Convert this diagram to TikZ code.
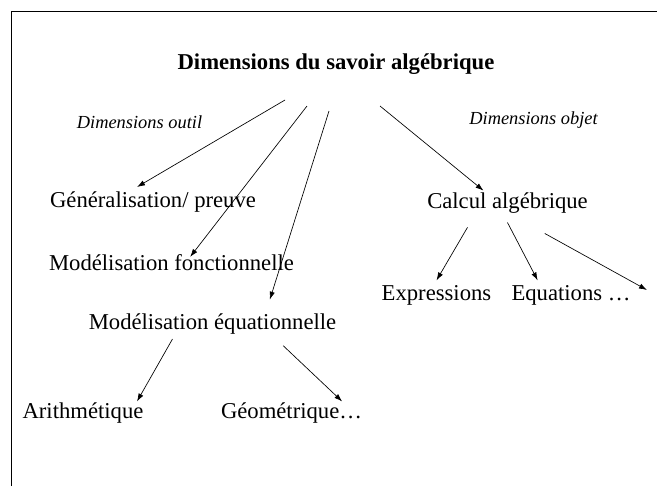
\documentclass[tikz,border=0pt]{standalone}
\usepackage{fontspec}
\setmainfont{Liberation Serif}
\usetikzlibrary{arrows.meta}

\begin{document}
\begin{tikzpicture}[x=0.75pt, y=-0.75pt,
    lbl/.style={font=\fontsize{17}{20}\selectfont},
    dim/.style={font=\fontsize{13.8}{16}\selectfont\itshape},
    arr/.style={-{Latex[length=6pt,width=4pt]}, line width=0.5pt}]
    \useasboundingbox (0,0) rectangle (657,486);
    % Frame
    \draw[line width=1.2pt] (11.5,486) -- (11.5,11.5) -- (657,11.5);

    % Title and the two kinds of dimensions
    \node[font=\fontsize{17}{20}\selectfont\bfseries] (title) at (336,64) {Dimensions du savoir algébrique};
    \node[dim] (outil) at (139.5,122) {Dimensions outil};
    \node[dim] (objet) at (533.5,120) {Dimensions objet};
    \coordinate (t1) at (285,100);
    \coordinate (t2) at (307,106);
    \coordinate (t3) at (329,111);
    \coordinate (t4) at (380,106);

    % Outil side
    \node[lbl] (gen) at (153,202) {Généralisation/ preuve};
    \node[lbl] (fonc) at (171.5,263) {Modélisation fonctionnelle};
    \node[lbl] (equa) at (212.5,324) {Modélisation équationnelle};
    \node[lbl] (arith) at (83,413) {Arithmétique};
    \node[lbl] (geom) at (291.5,413) {Géométrique\dots};

    % Objet side
    \node[lbl] (calc) at (507.5,203) {Calcul algébrique};
    \node[lbl] (expr) at (436.5,295) {Expressions};
    \node[lbl] (eqns) at (571,295) {Equations \dots};
    \coordinate (more) at (647,290);

    % Arrows from the title
    \draw[arr] (t1) -- ([xshift=-12pt]gen.north);
    \draw[arr] (t2) -- ([xshift=14pt,yshift=-5pt]fonc.north);
    \draw[arr] (t3) -- ([xshift=43pt,yshift=7pt]equa.north);
    \draw[arr] (t4) -- ([xshift=-18pt,yshift=-2pt]calc.north);

    % Arrows below
    \draw[arr] ([xshift=-30pt,yshift=-7pt]calc.south) -- (expr.north);
    \draw[arr] ([yshift=-3.4pt]calc.south) -- ([xshift=-25pt]eqns.north);
    \draw[arr] ([xshift=28pt,yshift=-11.6pt]calc.south) -- (more);
    \draw[arr] ([xshift=-30pt]equa.south) -- ([xshift=40.5pt,yshift=-2.6pt]arith.north);
    \draw[arr] ([xshift=53pt,yshift=-5pt]equa.south) -- ([xshift=38pt,yshift=-2.6pt]geom.north);
\end{tikzpicture}
\end{document}
